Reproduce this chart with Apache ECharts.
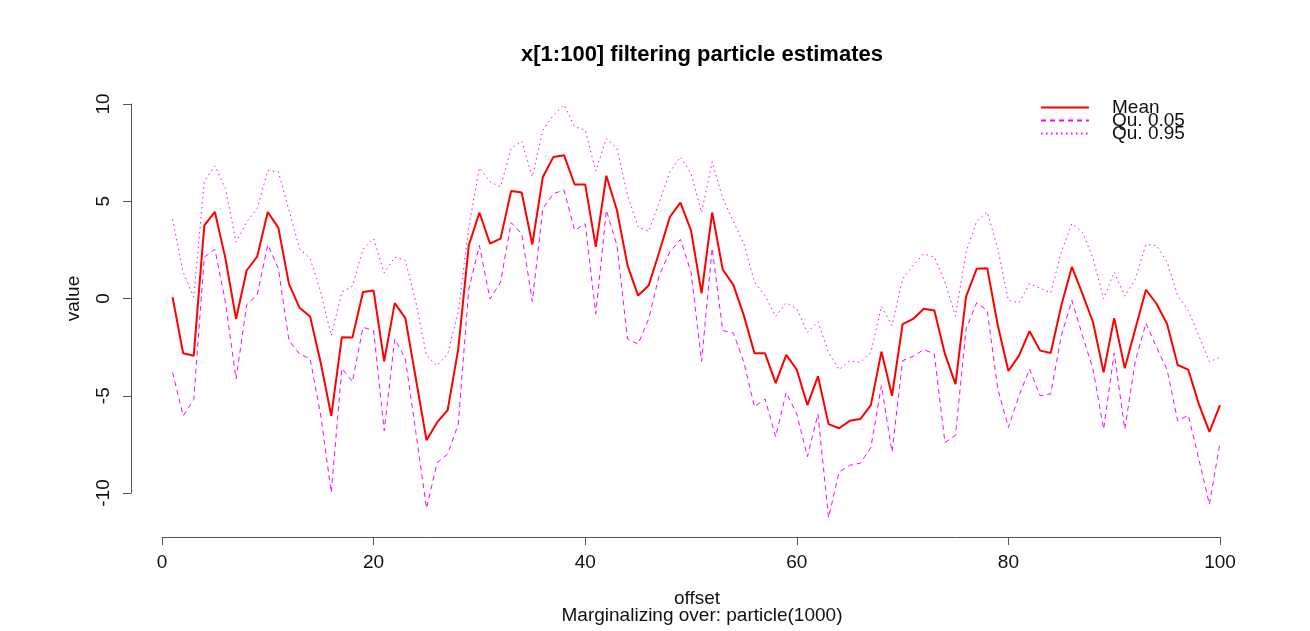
<!DOCTYPE html>
<html>
<head>
<meta charset="utf-8">
<script src="https://cdn.jsdelivr.net/npm/echarts@6/dist/echarts.min.js"></script>
<style>
html,body{margin:0;padding:0;background:#fff;}
#chart{width:1310px;height:631px;}
</style>
</head>
<body>
<div id="chart"></div>
<script>
const offsets = Array.from({length: 100}, (_, i) => i + 1);
const xTicks = [0, 20, 40, 60, 80, 100];
const yTicks = [-10, -5, 0, 5, 10];

const meanValues = [
  0.07, -2.82, -2.94, 3.76, 4.45, 2.05, -1.05, 1.44, 2.16, 4.45,
  3.63, 0.75, -0.48, -0.93, -3.3, -6.03, -1.99, -2.0, 0.33, 0.41,
  -3.23, -0.24, -1.01, -4.14, -7.29, -6.37, -5.74, -2.6, 2.73, 4.42,
  2.82, 3.08, 5.53, 5.45, 2.78, 6.25, 7.28, 7.37, 5.86, 5.86,
  2.65, 6.31, 4.54, 1.7, 0.15, 0.67, 2.39, 4.19, 4.93, 3.5,
  0.27, 4.42, 1.49, 0.7, -0.88, -2.82, -2.82, -4.35, -2.9, -3.66,
  -5.48, -4.0, -6.46, -6.67, -6.29, -6.2, -5.48, -2.73, -5.0, -1.32,
  -1.05, -0.53, -0.62, -2.85, -4.4, 0.1, 1.53, 1.56, -1.39, -3.73,
  -2.94, -1.68, -2.68, -2.8, -0.36, 1.62, 0.24, -1.22, -3.8, -1.01,
  -3.59, -1.56, 0.45, -0.27, -1.31, -3.42, -3.66, -5.43, -6.86, -5.48
];

const qu05Values = [
  -3.8, -6.03, -5.2, 2.13, 2.53, -0.2, -4.14, -0.33, 0.2, 2.77,
  1.53, -2.16, -2.85, -3.1, -6.0, -9.98, -3.59, -4.28, -1.48, -1.65,
  -6.8, -2.08, -3.1, -6.9, -10.79, -8.44, -8.0, -6.46, 0.5, 2.73,
  -0.02, 0.84, 3.9, 3.33, -0.15, 4.62, 5.4, 5.57, 3.5, 3.85,
  -0.79, 4.54, 2.73, -2.08, -2.34, -1.05, 1.19, 2.4, 3.04, 1.36,
  -3.23, 2.59, -1.65, -1.77, -3.28, -5.57, -5.17, -7.1, -4.83, -5.94,
  -8.13, -5.94, -11.27, -8.92, -8.57, -8.47, -7.66, -4.48, -7.89, -3.2,
  -2.97, -2.63, -2.85, -7.41, -7.03, -1.56, -0.22, -0.62, -4.66, -6.63,
  -5.0, -3.63, -5.0, -4.91, -1.91, -0.1, -1.91, -3.63, -6.72, -2.8,
  -6.72, -3.2, -1.27, -2.51, -3.66, -6.29, -6.0, -8.26, -10.58, -7.41
];

const qu95Values = [
  4.07, 1.36, 0.07, 6.03, 6.82, 5.65, 2.9, 3.93, 4.62, 6.58,
  6.51, 4.54, 2.56, 2.05, 0.33, -1.9, 0.33, 0.64, 2.53, 3.08,
  1.31, 2.13, 1.96, -0.19, -2.94, -3.45, -2.85, -0.7, 3.7, 6.72,
  6.0, 5.74, 7.72, 8.09, 6.25, 8.66, 9.43, 9.95, 8.83, 8.66,
  6.55, 8.23, 7.72, 5.31, 3.68, 3.45, 4.96, 6.51, 7.28, 6.43,
  4.42, 7.03, 5.14, 3.97, 2.82, 0.84, 0.15, -0.93, -0.22, -0.53,
  -1.74, -1.19, -2.77, -3.66, -3.2, -3.28, -2.77, -0.4, -1.39, 1.01,
  1.7, 2.3, 2.13, 0.84, -0.91, 2.39, 3.97, 4.45, 2.56, -0.1,
  -0.22, 0.76, 0.53, 0.29, 2.39, 3.85, 3.42, 2.05, -0.02, 1.36,
  0.12, 1.01, 2.77, 2.73, 1.87, 0.15, -0.62, -1.91, -3.25, -3.02
];

const seriesNames = ['Mean', 'Qu. 0.05', 'Qu. 0.95'];

const FONT = '"Liberation Sans", Arial, Helvetica, sans-serif';
const pairs = vals => offsets.map((x, i) => [x, vals[i]]);

const chart = echarts.init(document.getElementById('chart'), null, {renderer: 'canvas'});
chart.setOption({
  animation: false,
  backgroundColor: '#ffffff',
  title: [
    {
      text: 'x[1:100] filtering particle estimates',
      left: 697, top: 39, textAlign: 'center',
      textStyle: {fontFamily: FONT, fontSize: 22, fontWeight: 'bold', color: '#000'}
    },
    {
      text: 'Marginalizing over: particle(1000)',
      left: 697, top: 601, textAlign: 'center',
      textStyle: {fontFamily: FONT, fontSize: 19, fontWeight: 'normal', color: '#111'}
    }
  ],
  legend: {
    data: seriesNames,
    orient: 'vertical',
    left: 1040, top: 98,
    padding: 0,
    itemWidth: 48, itemHeight: 13, itemGap: -6,
    itemStyle: {opacity: 0, borderWidth: 0},
    textStyle: {fontFamily: FONT, fontSize: 19, color: '#111', padding: [0, 0, 0, 18]}
  },
  grid: {left: 162, right: 90, top: 104, bottom: 138, containLabel: false},
  xAxis: {
    type: 'value', min: xTicks[0], max: xTicks[xTicks.length - 1], interval: 20,
    offset: 44,
    name: 'offset', nameLocation: 'middle', nameGap: 52,
    nameTextStyle: {fontFamily: FONT, fontSize: 19, color: '#111', padding: [0, 0, 0, 12]},
    axisLine: {show: true, onZero: false, lineStyle: {color: '#555', width: 1}},
    axisTick: {show: true, length: 8, lineStyle: {color: '#555'}},
    axisLabel: {fontFamily: FONT, fontSize: 19, color: '#111', margin: 16},
    splitLine: {show: false}
  },
  yAxis: {
    type: 'value', min: yTicks[0], max: yTicks[yTicks.length - 1], interval: 5,
    offset: 31,
    name: 'value', nameLocation: 'middle', nameRotate: 90, nameGap: 48,
    nameTextStyle: {fontFamily: FONT, fontSize: 19, color: '#111'},
    axisLine: {show: true, onZero: false, lineStyle: {color: '#555', width: 1}},
    axisTick: {show: true, length: 8, lineStyle: {color: '#555'}},
    axisLabel: {fontFamily: FONT, fontSize: 19, color: '#111', rotate: 90, margin: 18},
    splitLine: {show: false}
  },
  series: [
    {
      name: seriesNames[0], type: 'line', data: pairs(meanValues),
      symbol: 'none', clip: false, z: 3,
      lineStyle: {color: '#ff0000', width: 2, type: 'solid'},
      itemStyle: {color: '#ff0000'}
    },
    {
      name: seriesNames[1], type: 'line', data: pairs(qu05Values),
      symbol: 'none', clip: false, z: 2,
      lineStyle: {color: '#ff00ff', width: 1, type: [5, 4]},
      itemStyle: {color: '#ff00ff'}
    },
    {
      name: seriesNames[2], type: 'line', data: pairs(qu95Values),
      symbol: 'none', clip: false, z: 2,
      lineStyle: {color: '#ff00ff', width: 1, type: [1.5, 3.5]},
      itemStyle: {color: '#ff00ff'}
    }
  ]
});
</script>
</body>
</html>
